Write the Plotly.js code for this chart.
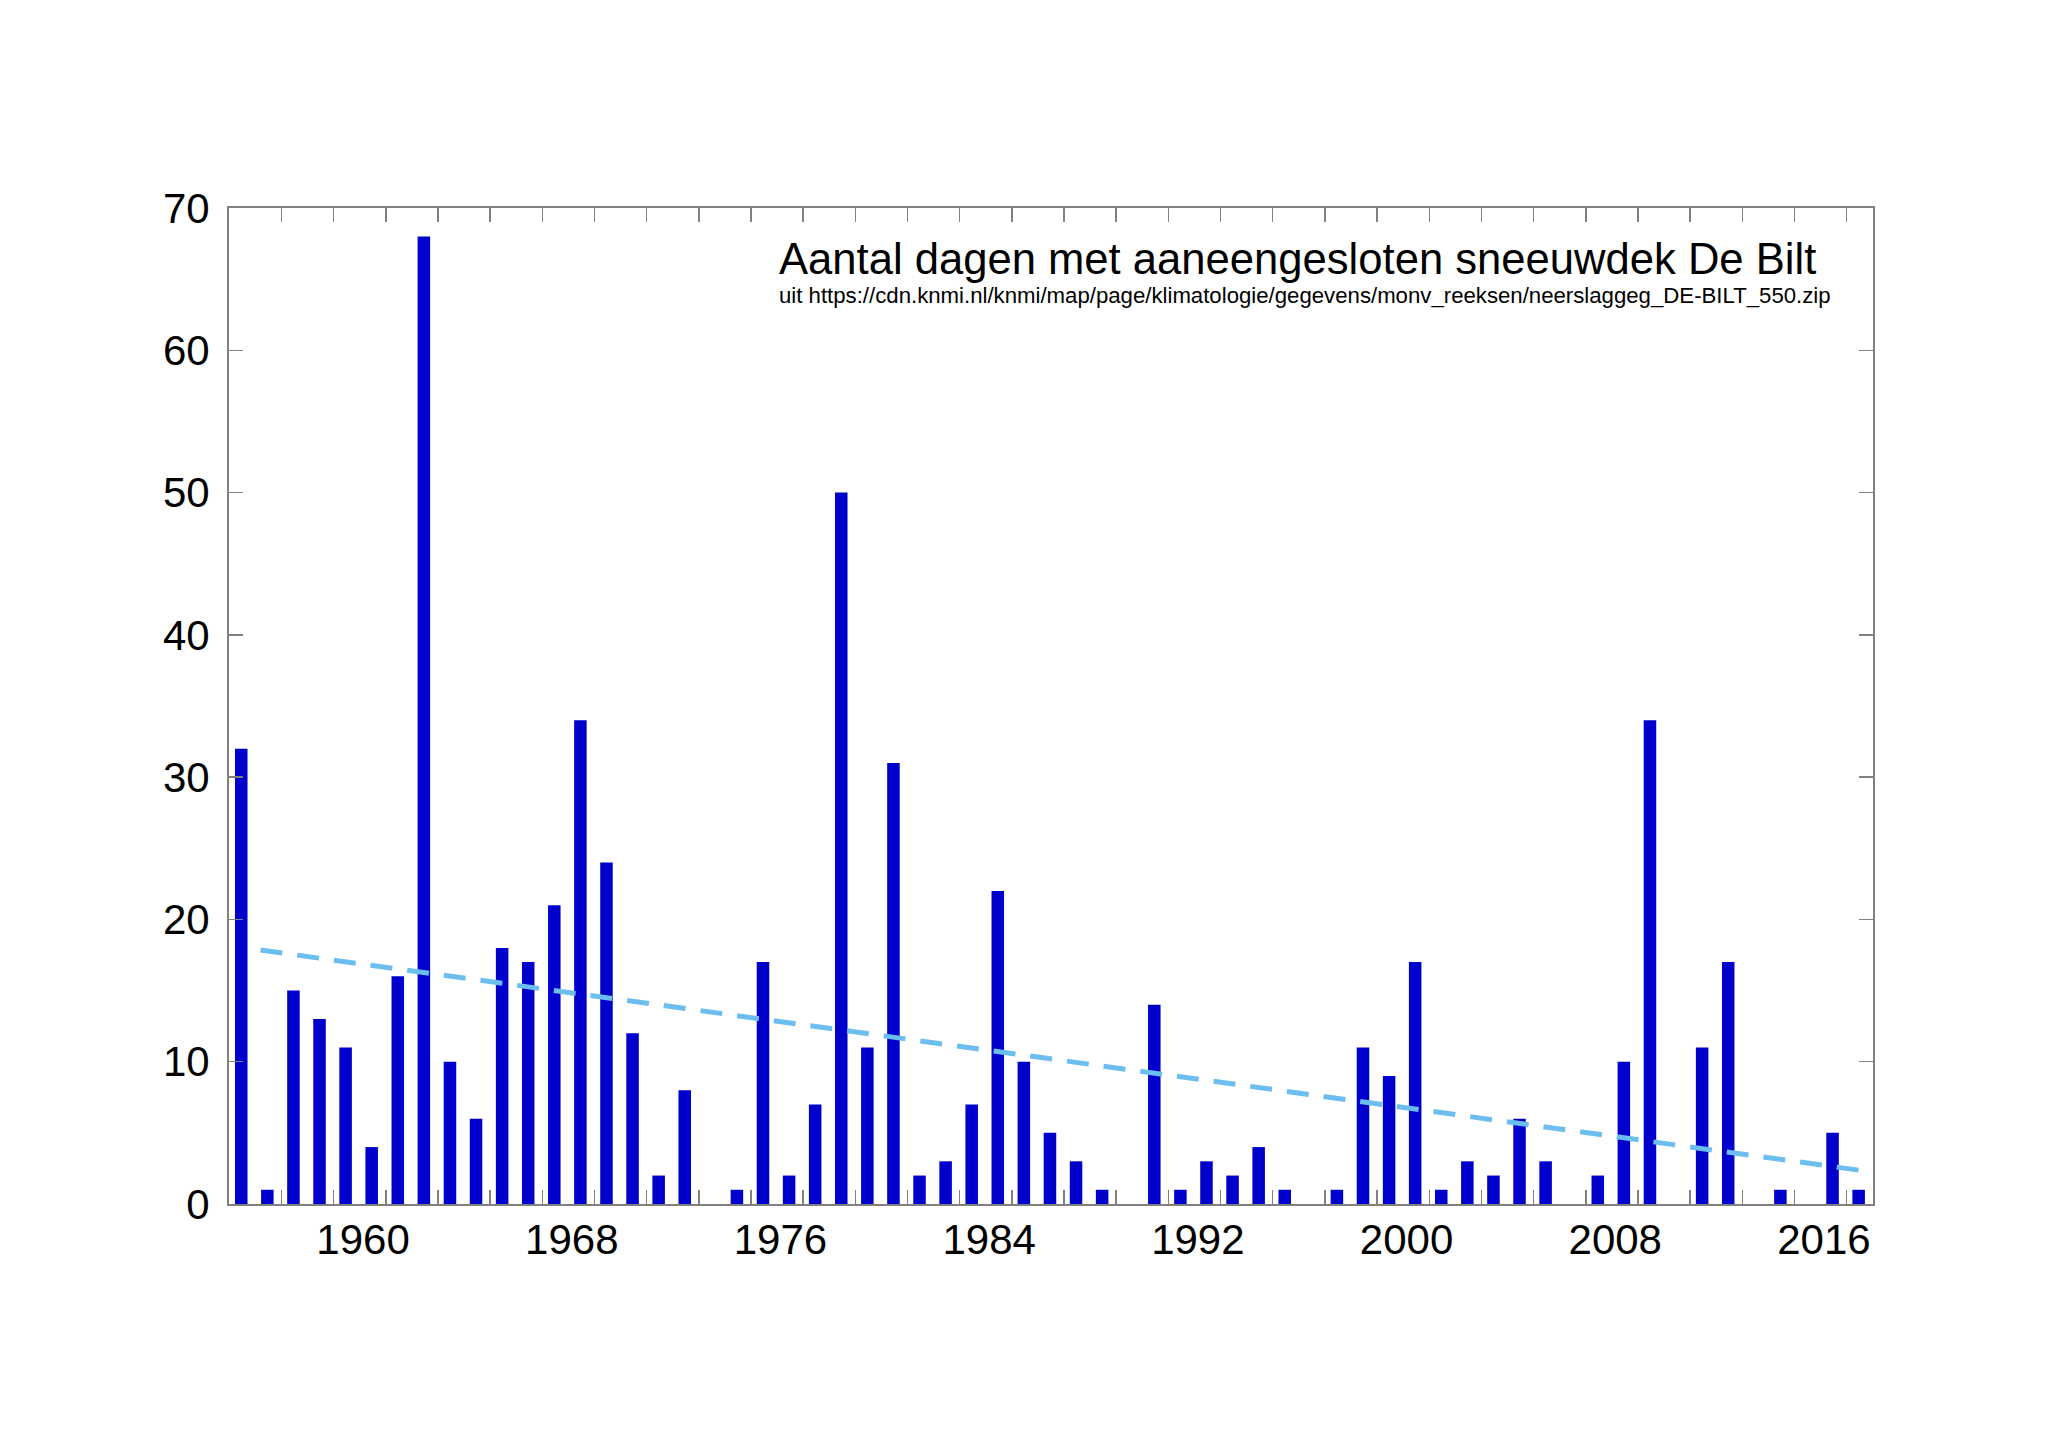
<!DOCTYPE html>
<html>
<head>
<meta charset="utf-8">
<script src="https://cdn.plot.ly/plotly-3.0.1.min.js"></script>
<style>
  html, body { margin: 0; padding: 0; background: #fff; }
  #chart { width: 2048px; height: 1447px; }
</style>
</head>
<body>
<div id="chart"></div>
<script>
// winters (start year) and number of days with continuous snow cover
var years = [];
for (var y = 1955; y <= 2017; y++) years.push(y);

var snowDays = [
    32, 1, 15, 13, 11, 4, 16, 68, 10, 6,
    18, 17, 21, 34, 24, 12, 2, 8, 0, 1,
    17, 2, 7, 50, 11, 31, 2, 3, 7, 22,
    10, 5, 3, 1, 0, 14, 1, 3, 2, 4,
    1, 0, 1, 11, 9, 17, 1, 3, 2, 6,
    3, 0, 2, 10, 34, 0, 11, 17, 0, 1,
    0, 5, 1
];

var labelYears = [1960, 1968, 1976, 1984, 1992, 2000, 2008, 2016];
var yTicks = [0, 10, 20, 30, 40, 50, 60, 70];

var titleText = 'Aantal dagen met aaneengesloten sneeuwdek De Bilt';
var sourceText = 'uit https://cdn.knmi.nl/knmi/map/page/klimatologie/gegevens/monv_reeksen/neerslaggeg_DE-BILT_550.zip';

// label / tick placement relative to the bars (bars sit a bit right of the year label)
var labelShift = -0.33;
var tickShift = 0.54;

// least squares trend
function linearFit(xs, ys) {
    var n = xs.length, sx = 0, sy = 0, sxx = 0, sxy = 0;
    for (var i = 0; i < n; i++) {
        sx += xs[i]; sy += ys[i];
        sxx += xs[i] * xs[i]; sxy += xs[i] * ys[i];
    }
    var b = (n * sxy - sx * sy) / (n * sxx - sx * sx);
    var a = (sy - b * sx) / n;
    return function(x) { return a + b * x; };
}
var fit = linearFit(years, snowDays);
var trendX = [years[0] + 0.74, years[years.length - 1] + 0.08];
var trendY = trendX.map(fit);

var minorTicks = [];
for (var t = 1956; t <= 2016; t += 2) minorTicks.push(t + tickShift);

var axisGray = '#808080';
var font = 'Liberation Sans, Arial, Helvetica, sans-serif';

var data = [
    {
        type: 'bar',
        x: years,
        y: snowDays,
        width: 0.48,
        marker: {color: '#0000cc', line: {width: 0}},
        hoverinfo: 'x+y'
    },
    {
        type: 'scatter',
        mode: 'lines',
        x: trendX,
        y: trendY,
        line: {color: '#6cbdf0', width: 5, dash: '22px,15px'},
        hoverinfo: 'skip'
    },
    // invisible trace to carry the labelled axis
    {
        type: 'scatter',
        mode: 'markers',
        x: [years[0]],
        y: [0],
        xaxis: 'x2',
        marker: {opacity: 0},
        hoverinfo: 'skip'
    }
];

var xrange = [years[0] - 0.47, years[years.length - 1] + 0.55];

var layout = {
    width: 2048,
    height: 1447,
    paper_bgcolor: '#ffffff',
    plot_bgcolor: '#ffffff',
    showlegend: false,
    margin: {l: 229, r: 175, t: 208, b: 243, pad: 0},
    font: {family: font, color: '#000000'},
    xaxis: {
        range: xrange,
        tickmode: 'array',
        tickvals: minorTicks,
        ticks: 'inside',
        ticklen: 14,
        tickwidth: 1.5,
        tickcolor: axisGray,
        showticklabels: false,
        showline: true,
        linecolor: axisGray,
        linewidth: 2,
        mirror: 'ticks',
        showgrid: false,
        zeroline: false
    },
    xaxis2: {
        overlaying: 'x',
        matches: 'x',
        side: 'bottom',
        range: xrange,
        tickmode: 'array',
        tickvals: labelYears.map(function(v) { return v + labelShift; }),
        ticktext: labelYears.map(String),
        ticks: '',
        ticklabelstandoff: 7,
        tickfont: {size: 42, family: font, color: '#000'},
        showline: false,
        showgrid: false,
        zeroline: false
    },
    yaxis: {
        range: [0, 70],
        tickmode: 'array',
        tickvals: yTicks,
        ticktext: yTicks.map(String),
        ticks: 'inside',
        ticklen: 14,
        tickwidth: 1.5,
        tickcolor: axisGray,
        ticklabelstandoff: 9,
        tickfont: {size: 42, family: font, color: '#000'},
        showline: true,
        linecolor: axisGray,
        linewidth: 2,
        mirror: 'ticks',
        showgrid: false,
        zeroline: false
    },
    annotations: [
        {
            xref: 'paper', yref: 'paper',
            x: (777 - 229) / 1644, y: 1 - (259 - 208) / 996,
            xanchor: 'left', yanchor: 'middle',
            text: titleText,
            showarrow: false,
            font: {size: 43.6, family: font, color: '#000'}
        },
        {
            xref: 'paper', yref: 'paper',
            x: (777 - 229) / 1644, y: 1 - (295 - 208) / 996,
            xanchor: 'left', yanchor: 'middle',
            text: sourceText,
            showarrow: false,
            font: {size: 22.2, family: font, color: '#000'}
        }
    ]
};

Plotly.newPlot('chart', data, layout, {displayModeBar: false, staticPlot: true});
</script>
</body>
</html>
